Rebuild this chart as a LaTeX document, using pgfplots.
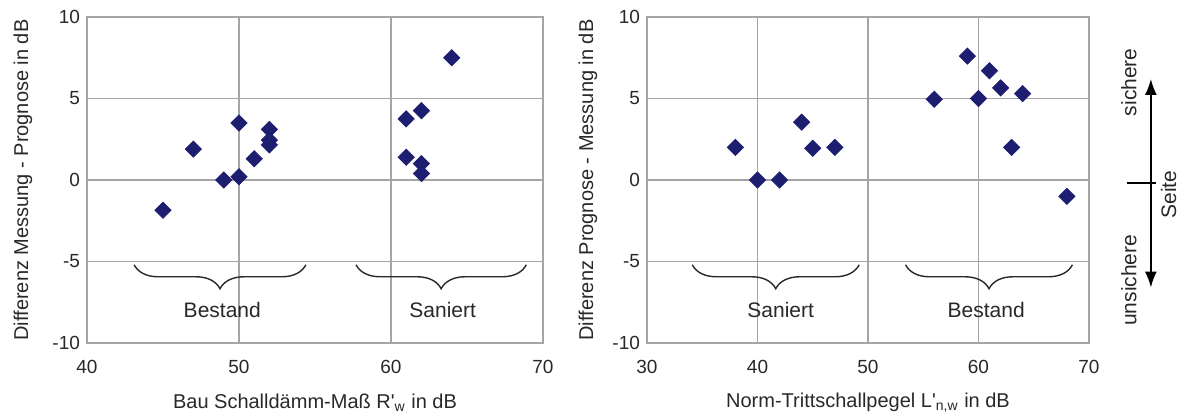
\documentclass[border=0pt]{standalone}
\usepackage{fontspec}
\setmainfont{Liberation Sans}
\usepackage{pgfplots}
\pgfplotsset{compat=1.18}
\usetikzlibrary{decorations.pathreplacing,arrows.meta}

\definecolor{navy}{RGB}{30,30,112}
\definecolor{textc}{RGB}{40,40,40}
\definecolor{gridc}{RGB}{165,165,165}

\pgfplotsset{
  panel/.style={
    scale only axis,
    height=163pt,
    ymin=-10, ymax=10,
    ytick={-10,-5,0,5,10},
    grid=major,
    major grid style={gridc, line width=0.6pt},
    axis line style={gridc, line width=0.6pt},
    tick style={draw=none},
    tick label style={font=\fontsize{9.5}{11}\selectfont, text=textc},
    /pgf/number format/assume math mode=true,
    xticklabel style={yshift=-5pt},
    label style={font=\fontsize{10}{12}\selectfont, text=textc},
    xlabel style={at={(axis description cs:0.5,0)}, anchor=center, yshift=-30pt},
    clip=false,
  },
  dots/.style={only marks, mark=square*, mark size=2.85pt,
    mark options={fill=navy, draw=navy, rotate=45}},
}
\tikzset{
  brc/.style={decorate, decoration={brace, mirror, amplitude=12pt},
    line width=0.7pt, draw=textc},
  grp/.style={font=\fontsize{10.5}{12}\selectfont, text=textc},
}

\begin{document}
\begin{tikzpicture}
\useasboundingbox (-43.5pt,-37.25pt) rectangle (548.5pt,171.5pt);

% left panel: Luftschall
\begin{axis}[panel,
  at={(0pt,0pt)}, anchor=south west,
  width=228pt,
  xmin=40, xmax=70,
  xtick={40,50,60,70},
  xlabel={Bau Schalldämm-Maß R\textquotesingle\textsubscript{w} in dB},
  ylabel={Differenz Messung - Prognose in dB},
  ylabel style={at={([xshift=-32pt]axis description cs:0,0.5)}, anchor=center},
]
\addplot[dots] coordinates {
  (45,-1.85) (47,1.9) (49,0) (50,0.2) (50,3.5) (51,1.3)
  (52,3.1) (52,2.45) (52,2.15)
  (61,3.75) (62,4.25) (61,1.4) (62,1.0) (62,0.4) (64,7.5)
};
\draw[brc] (axis cs:43.1,-5.2) -- (axis cs:54.4,-5.2);
\draw[brc] (axis cs:57.7,-5.2) -- (axis cs:68.9,-5.2);
\node[grp] at (axis cs:48.9,-8) {Bestand};
\node[grp] at (axis cs:63.4,-8) {Saniert};
\end{axis}

% right panel: Trittschall
\begin{axis}[panel,
  at={(280pt,0pt)}, anchor=south west,
  width=221pt,
  xmin=30, xmax=70,
  xtick={30,40,50,60,70},
  xlabel={Norm-Trittschallpegel L\textquotesingle\textsubscript{n,w} in dB},
  ylabel={Differenz Prognose - Messung in dB},
  ylabel style={at={([xshift=-29.5pt]axis description cs:0,0.5)}, anchor=center},
]
\addplot[dots] coordinates {
  (38,2) (40,0) (42,0) (44,3.55) (45,1.95) (47,2)
  (56,4.95) (59,7.6) (60,5) (61,6.7) (62,5.65) (64,5.3) (63,2) (68,-1)
};
\draw[brc] (axis cs:34.1,-5.2) -- (axis cs:49.2,-5.2);
\draw[brc] (axis cs:53.4,-5.2) -- (axis cs:68.5,-5.2);
\node[grp] at (axis cs:42.1,-8) {Saniert};
\node[grp] at (axis cs:60.7,-8) {Bestand};

% sichere / unsichere Seite
\draw[{Latex[length=8pt,width=6pt]}-{Latex[length=8pt,width=6pt]}, line width=0.9pt]
  (axis cs:75.6,6.2) -- (axis cs:75.6,-6.6);
\draw[line width=0.8pt] (axis cs:73.4,-0.2) -- (axis cs:76.1,-0.2);
\node[grp, rotate=90] at (axis cs:73.6,6.0) {sichere};
\node[grp, rotate=90] at (axis cs:73.6,-6.15) {unsichere};
\node[grp, rotate=90] at (axis cs:77.2,-0.9) {Seite};
\end{axis}
\end{tikzpicture}
\end{document}
